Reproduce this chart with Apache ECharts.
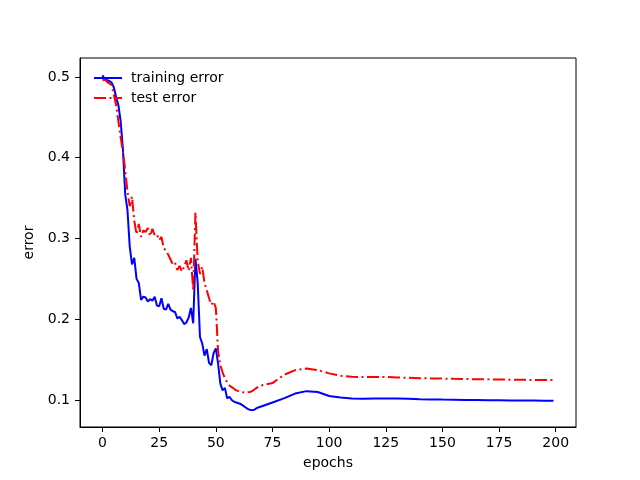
<!DOCTYPE html>
<html>
<head>
<meta charset="utf-8">
<script src="https://cdn.jsdelivr.net/npm/echarts@6/dist/echarts.min.js"></script>
<style>
html,body{margin:0;padding:0;background:#fff;}
#chart{width:640px;height:480px;}
</style>
</head>
<body>
<div id="chart"></div>
<script>
var epochs = [0,1,2,3,4,5,6,7,8,9,10,11,12,13,14,15,16,17,18,19,20,21,22,23,24,25,26,27,28,29,30,31,32,33,34,35,36,37,38,39,40,41,42,43,44,45,46,47,48,49,50,51,52,53,54,55,56,57,58,59,60,61,62,63,64,65,66,67,68,69,70,
    75,80,85,90,95,100,105,110,115,120,125,130,135,140,145,150,155,160,165,170,175,180,185,190,195,199];
// training error
var trainErr = [0.502,0.497,0.496,0.495,0.493,0.487,0.475,0.465,0.445,0.410,0.355,0.335,0.290,0.268,0.276,0.250,0.245,0.224,0.228,0.227,
    0.222,0.225,0.223,0.228,0.217,0.216,0.226,0.213,0.212,0.219,0.212,0.210,0.209,0.201,0.203,0.199,0.194,0.196,0.202,0.214,
    0.195,0.275,0.245,0.178,0.170,0.155,0.163,0.146,0.143,0.158,0.164,0.145,0.120,0.112,0.115,0.102,0.104,0.100,0.098,0.097,
    0.096,0.095,0.093,0.091,0.089,0.088,0.0875,0.088,0.090,0.091,0.092,
    0.097,0.102,0.108,0.111,0.110,0.105,0.103,0.102,0.1015,0.102,0.102,0.102,0.1015,0.101,0.1008,0.1005,0.1003,0.100,0.100,0.0998,0.0997,0.0995,0.0994,0.0993,0.0992,0.0991];
// test error
var testErr = [0.496,0.497,0.494,0.492,0.490,0.478,0.465,0.445,0.425,0.407,0.385,0.358,0.340,0.352,0.322,0.305,0.318,0.302,0.310,0.308,
    0.313,0.303,0.312,0.304,0.305,0.298,0.302,0.288,0.285,0.280,0.274,0.268,0.270,0.261,0.266,0.259,0.265,0.273,0.260,0.276,
    0.236,0.332,0.272,0.256,0.265,0.245,0.236,0.226,0.218,0.222,0.214,0.160,0.143,0.134,0.127,0.122,0.118,0.116,0.114,0.112,
    0.111,0.110,0.1095,0.109,0.1095,0.110,0.111,0.113,0.115,0.117,0.118,
    0.121,0.131,0.137,0.139,0.137,0.133,0.130,0.1288,0.1285,0.1285,0.1285,0.128,0.1275,0.127,0.1268,0.1265,0.1262,0.126,0.1258,0.1256,0.1254,0.1252,0.125,0.1249,0.1248,0.1247];
var xTicks = [0,25,50,75,100,125,150,175,200];
var yTicks = [0.1,0.2,0.3,0.4,0.5];

function pairs(xs, ys) {
    var out = [];
    for (var i = 0; i < xs.length; i++) {
        out.push([xs[i], ys[i]]);
    }
    return out;
}

var font = 'DejaVu Sans';
var chart = echarts.init(document.getElementById('chart'));
var option = {
    animation: false,
    textStyle: {fontFamily: font},
    grid: {
        left: 80, right: 64, top: 58, bottom: 53,
        show: true, borderColor: '#000', borderWidth: 1
    },
    legend: {
        left: 88, top: 66,
        orient: 'vertical',
        itemWidth: 28, itemHeight: 14, itemGap: 6,
        itemStyle: {opacity: 0},
        textStyle: {fontSize: 14, color: '#000', fontFamily: font, padding: [0, 0, 0, 4]},
        data: ['training error', 'test error']
    },
    xAxis: {
        type: 'value',
        min: -9.95, max: 208.95,
        name: 'epochs', nameLocation: 'middle', nameGap: 29,
        nameTextStyle: {fontSize: 14, color: '#000'},
        splitLine: {show: false},
        axisLine: {onZero: false, lineStyle: {color: '#000', width: 1}},
        axisTick: {customValues: xTicks, length: 5, lineStyle: {color: '#000'}},
        axisLabel: {customValues: xTicks, fontSize: 14, color: '#000', margin: 9}
    },
    yAxis: {
        type: 'value',
        min: 0.0666, max: 0.5235,
        name: 'error', nameLocation: 'middle', nameGap: 35,
        nameTextStyle: {fontSize: 14, color: '#000'},
        splitLine: {show: false},
        axisLine: {show: true, onZero: false, lineStyle: {color: '#000', width: 1}},
        axisTick: {show: true, customValues: yTicks, length: 5, lineStyle: {color: '#000'}},
        axisLabel: {customValues: yTicks, fontSize: 14, color: '#000', margin: 10,
            formatter: function (v) { return v.toFixed(1); }}
    },
    series: [
        {
            name: 'training error',
            type: 'line',
            showSymbol: false,
            symbol: 'none',
            data: pairs(epochs, trainErr),
            itemStyle: {color: '#0000ff'},
            lineStyle: {color: '#0000ff', width: 2}
        },
        {
            name: 'test error',
            type: 'line',
            showSymbol: false,
            symbol: 'none',
            data: pairs(epochs, testErr),
            itemStyle: {color: '#ff0000'},
            lineStyle: {color: '#ff0000', width: 2, type: [12, 3.5, 2, 3.5]}
        }
    ]
};
chart.setOption(option);
</script>
</body>
</html>
